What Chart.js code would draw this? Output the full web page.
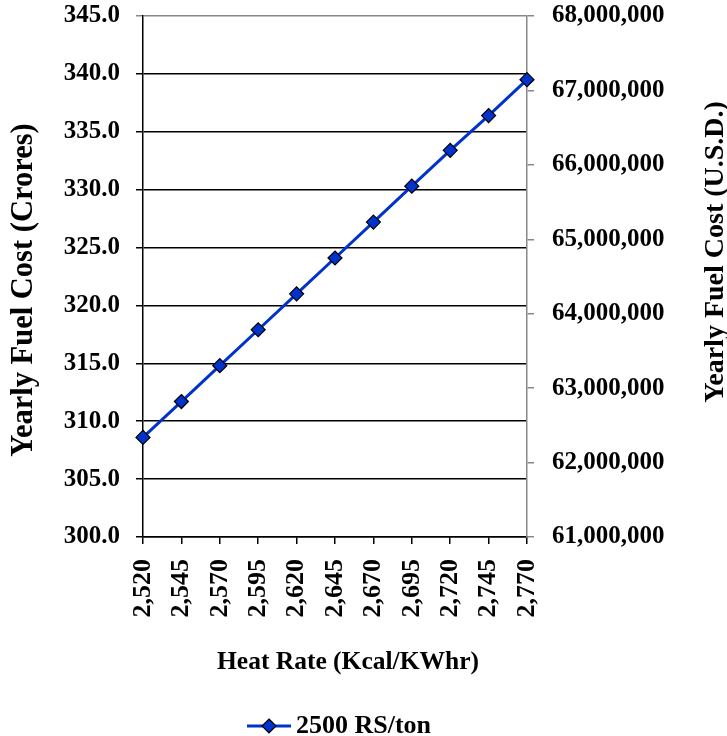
<!DOCTYPE html>
<html>
<head>
<meta charset="utf-8">
<script src="https://cdn.jsdelivr.net/npm/chart.js@4.4.0/dist/chart.umd.min.js"></script>
<style>
html,body{margin:0;padding:0;background:#fff;}
#wrap{width:727px;height:736px;position:relative;}
</style>
</head>
<body>
<div id="wrap"><canvas id="c" width="727" height="736" style="width:727px;height:736px"></canvas></div>
<script>
// ---- data ----
const heatRates = ['2,520','2,545','2,570','2,595','2,620','2,645','2,670','2,695','2,720','2,745','2,770'];
const costCrores = [308.6, 311.7, 314.8, 317.9, 321.0, 324.1, 327.2, 330.3, 333.4, 336.4, 339.5];
const seriesName = '2500 RS/ton';
const leftAxisRange = [300, 345, 5];
const rightAxisRange = [61000000, 68000000, 1000000];
const titleLeft = 'Yearly Fuel Cost (Crores)';
const titleRight = 'Yearly Fuel Cost (U.S.D.)';
const titleX = 'Heat Rate (Kcal/KWhr)';

// ---- style ----
const FONT = 'Liberation Serif';
const BLUE = '#0033CC';

// legend marker (line with diamond), drawn right of centre
const legendMark = document.createElement('canvas');
legendMark.width = 60; legendMark.height = 18;
(function(){
  const g = legendMark.getContext('2d');
  g.strokeStyle = BLUE; g.lineWidth = 3;
  g.beginPath(); g.moveTo(16,9); g.lineTo(60,9); g.stroke();
  g.beginPath(); g.moveTo(38,2); g.lineTo(45,9); g.lineTo(38,16); g.lineTo(31,9); g.closePath();
  g.fillStyle = BLUE; g.fill(); g.strokeStyle = '#000'; g.lineWidth = 1.2; g.stroke();
})();

const titlesPlugin = {
  id: 'axisTitles',
  afterDraw(chart) {
    const ctx = chart.ctx;
    ctx.save();
    ctx.fillStyle = '#000';
    ctx.textAlign = 'center';
    ctx.textBaseline = 'middle';
    ctx.font = 'bold 30.5px ' + FONT;
    ctx.save(); ctx.translate(24, 290); ctx.rotate(-Math.PI/2); ctx.fillText(titleLeft, 0, 0); ctx.restore();
    ctx.font = 'bold 28px ' + FONT;
    ctx.save(); ctx.translate(716, 252); ctx.rotate(-Math.PI/2); ctx.fillText(titleRight, 0, 0); ctx.restore();
    ctx.font = 'bold 25.5px ' + FONT;
    ctx.fillText(titleX, 348, 662);
    ctx.restore();
  }
};

Chart.defaults.font.family = FONT;
Chart.defaults.font.weight = 'bold';
Chart.defaults.color = '#000';

new Chart(document.getElementById('c'), {
  type: 'line',
  data: {
    labels: heatRates,
    datasets: [{
      label: seriesName,
      data: costCrores,
      yAxisID: 'y',
      borderColor: BLUE,
      borderWidth: 3,
      backgroundColor: BLUE,
      pointStyle: 'rectRot',
      pointRadius: 7,
      pointHoverRadius: 7,
      pointBackgroundColor: BLUE,
      pointBorderColor: '#000',
      pointBorderWidth: 1.2,
      tension: 0,
      fill: false
    }]
  },
  options: {
    responsive: false,
    devicePixelRatio: 1,
    animation: false,
    events: [],
    layout: { padding: { top: 16, left: 0, right: 0, bottom: -13 } },
    plugins: {
      tooltip: { enabled: false },
      legend: {
        display: true,
        position: 'bottom',
        fullSize: false,
        labels: {
          usePointStyle: true,
          pointStyle: legendMark,
          pointStyleWidth: 44,
          padding: 10,
          color: '#000',
          font: { size: 26, weight: 'bold', family: FONT }
        }
      }
    },
    scales: {
      x: {
        type: 'category',
        offset: false,
        grid: { display: true, drawOnChartArea: false, drawTicks: true, tickLength: 7, color: '#000', lineWidth: 1.5 },
        border: { display: true, color: '#000', width: 1.5 },
        ticks: { autoSkip: false, minRotation: 90, maxRotation: 90, padding: 15, color: '#000', font: { size: 26, weight: 'bold', family: FONT } },
        afterFit(s) { s.height = 166; }
      },
      y: {
        type: 'linear',
        position: 'left',
        min: leftAxisRange[0], max: leftAxisRange[1],
        grid: {
          drawOnChartArea: true, drawTicks: true, tickLength: 7, lineWidth: 1.5,
          color: (c) => (c.tick && c.tick.value === leftAxisRange[1]) ? '#888' : '#000'
        },
        border: { display: true, color: '#000', width: 1.5 },
        ticks: {
          stepSize: leftAxisRange[2], padding: 16, color: '#000',
          font: { size: 25, weight: 'bold', family: FONT },
          callback: (v) => Number(v).toFixed(1)
        },
        afterFit(s) { s.width = 143; s.paddingTop = 0; s.paddingBottom = 0; }
      },
      y2: {
        type: 'linear',
        position: 'right',
        min: rightAxisRange[0], max: rightAxisRange[1],
        grid: { drawOnChartArea: false, drawTicks: true, tickLength: 7, color: '#888', lineWidth: 1.5 },
        border: { display: true, color: '#888', width: 1.5 },
        ticks: {
          stepSize: rightAxisRange[2], padding: 18, color: '#000',
          font: { size: 25, weight: 'bold', family: FONT },
          callback: (v) => Number(v).toLocaleString('en-US')
        },
        afterFit(s) { s.width = 200; s.paddingTop = 0; s.paddingBottom = 0; }
      }
    }
  },
  plugins: [titlesPlugin]
});
</script>
</body>
</html>
